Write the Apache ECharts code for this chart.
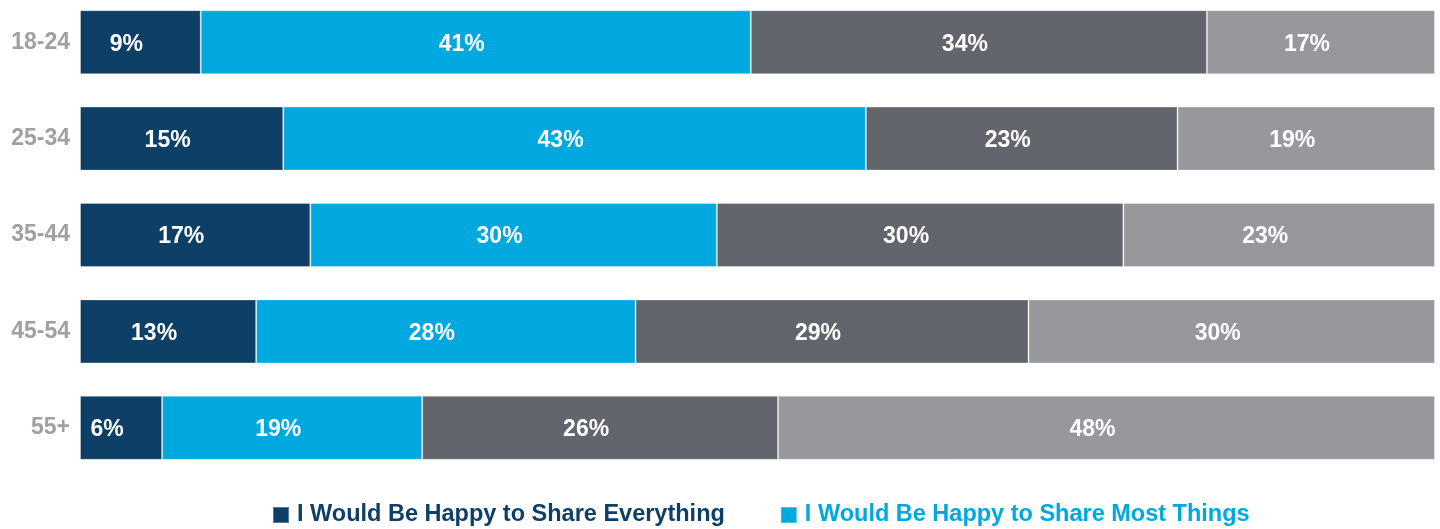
<!DOCTYPE html>
<html>
<head>
<meta charset="utf-8">
<script src="https://cdn.jsdelivr.net/npm/echarts@6/dist/echarts.min.js"></script>
<style>
  html, body { margin: 0; padding: 0; background: #ffffff; }
  #chart { width: 1440px; height: 529px; }
</style>
</head>
<body>
<div id="chart"></div>
<script>
// Age groups, top to bottom
const ageGroups = ['18-24', '25-34', '35-44', '45-54', '55+'];

// Answer shares (%) per age group
const shareEverything = [9, 15, 17, 13, 6];
const shareMost = [41, 43, 30, 28, 19];
const shareSome = [34, 23, 30, 29, 26];
const shareNothing = [17, 19, 23, 30, 48];

const seriesNames = [
  'I Would Be Happy to Share Everything',
  'I Would Be Happy to Share Most Things',
  'I Would Be Happy to Share Some Things',
  'I Would Not Be Happy to Share Anything'
];
const seriesColors = ['#0e3f66', '#00a8e0', '#63656c', '#97989b'];
const seriesValues = [shareEverything, shareMost, shareSome, shareNothing];

// Each row is drawn as a 100% bar: the rounded shares are scaled by the row total
const rowTotals = ageGroups.map((_, i) =>
  seriesValues.reduce((sum, arr) => sum + arr[i], 0));

const FONT = '"Liberation Sans", Arial, Helvetica, sans-serif';

const chart = echarts.init(document.getElementById('chart'), null, { renderer: 'canvas' });

chart.setOption({
  animation: false,
  backgroundColor: '#ffffff',
  grid: {
    left: 80, right: 5, top: -6, bottom: 53,
    containLabel: false,
    outerBoundsMode: 'none'
  },
  xAxis: {
    type: 'value',
    min: 0,
    max: 100,
    show: false
  },
  yAxis: {
    type: 'category',
    data: ageGroups,
    inverse: true,
    axisLine: { show: false },
    axisTick: { show: false },
    splitLine: { show: false },
    axisLabel: {
      margin: 10,
      color: '#a0a0a2',
      fontFamily: FONT,
      fontWeight: 'bold',
      fontSize: 23
    }
  },
  legend: {
    data: [
      { name: seriesNames[0], textStyle: { color: seriesColors[0] } },
      { name: seriesNames[1], textStyle: { color: seriesColors[1] } }
    ],
    left: 267,
    top: 498,
    icon: 'rect',
    itemWidth: 16,
    itemHeight: 16,
    itemGap: 55,
    selectedMode: false,
    textStyle: {
      fontFamily: FONT,
      fontWeight: 'bold',
      fontSize: 23.5,
      padding: [0, 0, 0, 3]
    }
  },
  series: seriesNames.map((name, s) => ({
    name,
    type: 'bar',
    stack: 'total',
    barWidth: 64,
    itemStyle: {
      color: seriesColors[s],
      borderColor: 'rgba(255,255,255,0.3)',
      borderWidth: 1
    },
    label: {
      show: true,
      position: 'inside',
      offset: [-14, 2],
      color: '#ffffff',
      fontFamily: FONT,
      fontWeight: 'bold',
      fontSize: 23,
      formatter: p => seriesValues[s][p.dataIndex] + '%'
    },
    data: seriesValues[s].map((v, i) => v / rowTotals[i] * 100)
  }))
});
</script>
</body>
</html>
